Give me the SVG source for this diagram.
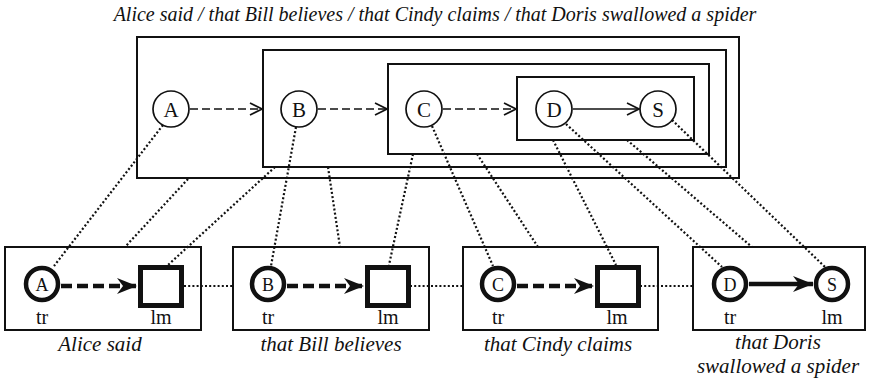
<svg xmlns="http://www.w3.org/2000/svg" width="872" height="381" viewBox="0 0 872 381">
<defs>
<style>
.box{fill:none;stroke:#111;stroke-width:2}
.c{fill:#fff;stroke:#111;stroke-width:1.7}
.tc{fill:#fff;stroke:#111;stroke-width:4.5}
.sq{fill:#fff;stroke:#111;stroke-width:5}
.lt{font-family:"Liberation Serif","Times New Roman",serif;font-size:21px;fill:#111;text-anchor:middle}
.bt{font-family:"Liberation Serif","Times New Roman",serif;font-size:18px;fill:#111;text-anchor:middle}
.st{font-family:"Liberation Serif","Times New Roman",serif;font-size:20px;fill:#111;text-anchor:middle}
.cap{font-family:"Liberation Serif","Times New Roman",serif;font-size:21px;font-style:italic;fill:#111;text-anchor:middle}
.ttl{font-family:"Liberation Serif","Times New Roman",serif;font-size:20px;font-style:italic;fill:#111;text-anchor:middle}
.dash{fill:none;stroke:#111;stroke-width:1.6;stroke-dasharray:8 4}
.solid{fill:none;stroke:#111;stroke-width:1.6}
.tdash{fill:none;stroke:#111;stroke-width:4.5;stroke-dasharray:11 5}
.tsolid{fill:none;stroke:#111;stroke-width:4.5}
.dot{fill:none;stroke:#111;stroke-width:2.2;stroke-dasharray:2 2.2}
</style>
<marker id="open" viewBox="0 0 14 14" refX="13" refY="7" markerWidth="14" markerHeight="14" markerUnits="userSpaceOnUse" orient="auto">
<path d="M1,1 L13,7 L1,13" fill="none" stroke="#111" stroke-width="1.7"/>
</marker>
<marker id="fill" viewBox="0 0 20 18" refX="20" refY="9" markerWidth="20" markerHeight="18" markerUnits="userSpaceOnUse" orient="auto">
<path d="M0,1 L20,9 L0,17 L6,9 Z" fill="#111"/>
</marker>
</defs>

<text class="ttl" x="435" y="21">Alice said / that Bill believes / that Cindy claims / that Doris swallowed a spider</text>

<g id="connectors">
<line class="dash" x1="190" y1="109" x2="262" y2="109" marker-end="url(#open)"/>
<line class="dash" x1="318" y1="109" x2="387" y2="109" marker-end="url(#open)"/>
<line class="dash" x1="443" y1="109" x2="516" y2="109" marker-end="url(#open)"/>
<line class="solid" x1="573" y1="109" x2="639" y2="109" marker-end="url(#open)"/>
<line class="tdash" x1="61" y1="286" x2="137" y2="286" marker-end="url(#fill)"/>
<line class="tdash" x1="287" y1="286" x2="364" y2="286" marker-end="url(#fill)"/>
<line class="tdash" x1="517" y1="286" x2="594" y2="286" marker-end="url(#fill)"/>
<line class="tsolid" x1="749" y1="284" x2="813" y2="284" marker-end="url(#fill)"/>
<line class="dot" x1="163" y1="125" x2="54" y2="266"/>
<line class="dot" x1="188" y1="179" x2="125" y2="247"/>
<line class="dot" x1="275" y1="167" x2="168" y2="265"/>
<line class="dot" x1="296" y1="127" x2="271" y2="266"/>
<line class="dot" x1="328" y1="167" x2="340" y2="247"/>
<line class="dot" x1="413" y1="154" x2="389" y2="265"/>
<line class="dot" x1="432" y1="126" x2="493" y2="266"/>
<line class="dot" x1="477" y1="154" x2="538" y2="247"/>
<line class="dot" x1="553" y1="140" x2="616" y2="265"/>
<line class="dot" x1="566" y1="124" x2="722" y2="267"/>
<line class="dot" x1="627" y1="140" x2="752" y2="247"/>
<line class="dot" x1="672" y1="120" x2="825" y2="267"/>
<line class="dot" x1="184" y1="286" x2="233" y2="286"/>
<line class="dot" x1="410" y1="286" x2="463" y2="286"/>
<line class="dot" x1="640" y1="286" x2="693" y2="286"/>
</g>

<g id="scene">
<rect class="box" x="137" y="37" width="602" height="141"/>
<rect class="box" x="263" y="50" width="463" height="117"/>
<rect class="box" x="388" y="64" width="321" height="90"/>
<rect class="box" x="517" y="77" width="177" height="63"/>
</g>

<g id="nA"><circle class="c" cx="171" cy="109" r="18"/><text class="lt" x="171" y="116.5">A</text></g>
<g id="nB"><circle class="c" cx="299" cy="109" r="18"/><text class="lt" x="299" y="116.5">B</text></g>
<g id="nC"><circle class="c" cx="424" cy="109" r="18"/><text class="lt" x="424" y="116.5">C</text></g>
<g id="nD"><circle class="c" cx="554" cy="109" r="18"/><text class="lt" x="554" y="116.5">D</text></g>
<g id="nS"><circle class="c" cx="658" cy="109" r="18"/><text class="lt" x="658" y="116.5">S</text></g>

<g id="p1">
<rect class="box" x="5" y="247" width="196" height="83"/>
<circle class="tc" cx="42" cy="284" r="16"/><text class="bt" x="42" y="290.5">A</text>
<rect class="sq" x="140.5" y="267.5" width="41" height="38"/>
<text class="st" x="42" y="324">tr</text><text class="st" x="161" y="324">lm</text>
<text class="cap" x="100" y="351">Alice said</text>
</g>
<g id="p2">
<rect class="box" x="233" y="247" width="196" height="83"/>
<circle class="tc" cx="268" cy="284" r="16"/><text class="bt" x="268" y="290.5">B</text>
<rect class="sq" x="367.5" y="267.5" width="41" height="38"/>
<text class="st" x="268" y="324">tr</text><text class="st" x="388" y="324">lm</text>
<text class="cap" x="331" y="351">that Bill believes</text>
</g>
<g id="p3">
<rect class="box" x="463" y="247" width="195" height="83"/>
<circle class="tc" cx="498" cy="284" r="16"/><text class="bt" x="498" y="290.5">C</text>
<rect class="sq" x="597.5" y="267.5" width="41" height="38"/>
<text class="st" x="498" y="324">tr</text><text class="st" x="617" y="324">lm</text>
<text class="cap" x="558" y="351">that Cindy claims</text>
</g>
<g id="p4">
<rect class="box" x="693" y="247" width="172" height="83"/>
<circle class="tc" cx="730" cy="284" r="16"/><text class="bt" x="730" y="290.5">D</text>
<circle class="tc" cx="832" cy="284" r="16"/><text class="bt" x="832" y="290.5">S</text>
<text class="st" x="730" y="324">tr</text><text class="st" x="832" y="324">lm</text>
<text class="cap" x="778" y="349">that Doris</text>
<text class="cap" x="778" y="373">swallowed a spider</text>
</g>
</svg>
